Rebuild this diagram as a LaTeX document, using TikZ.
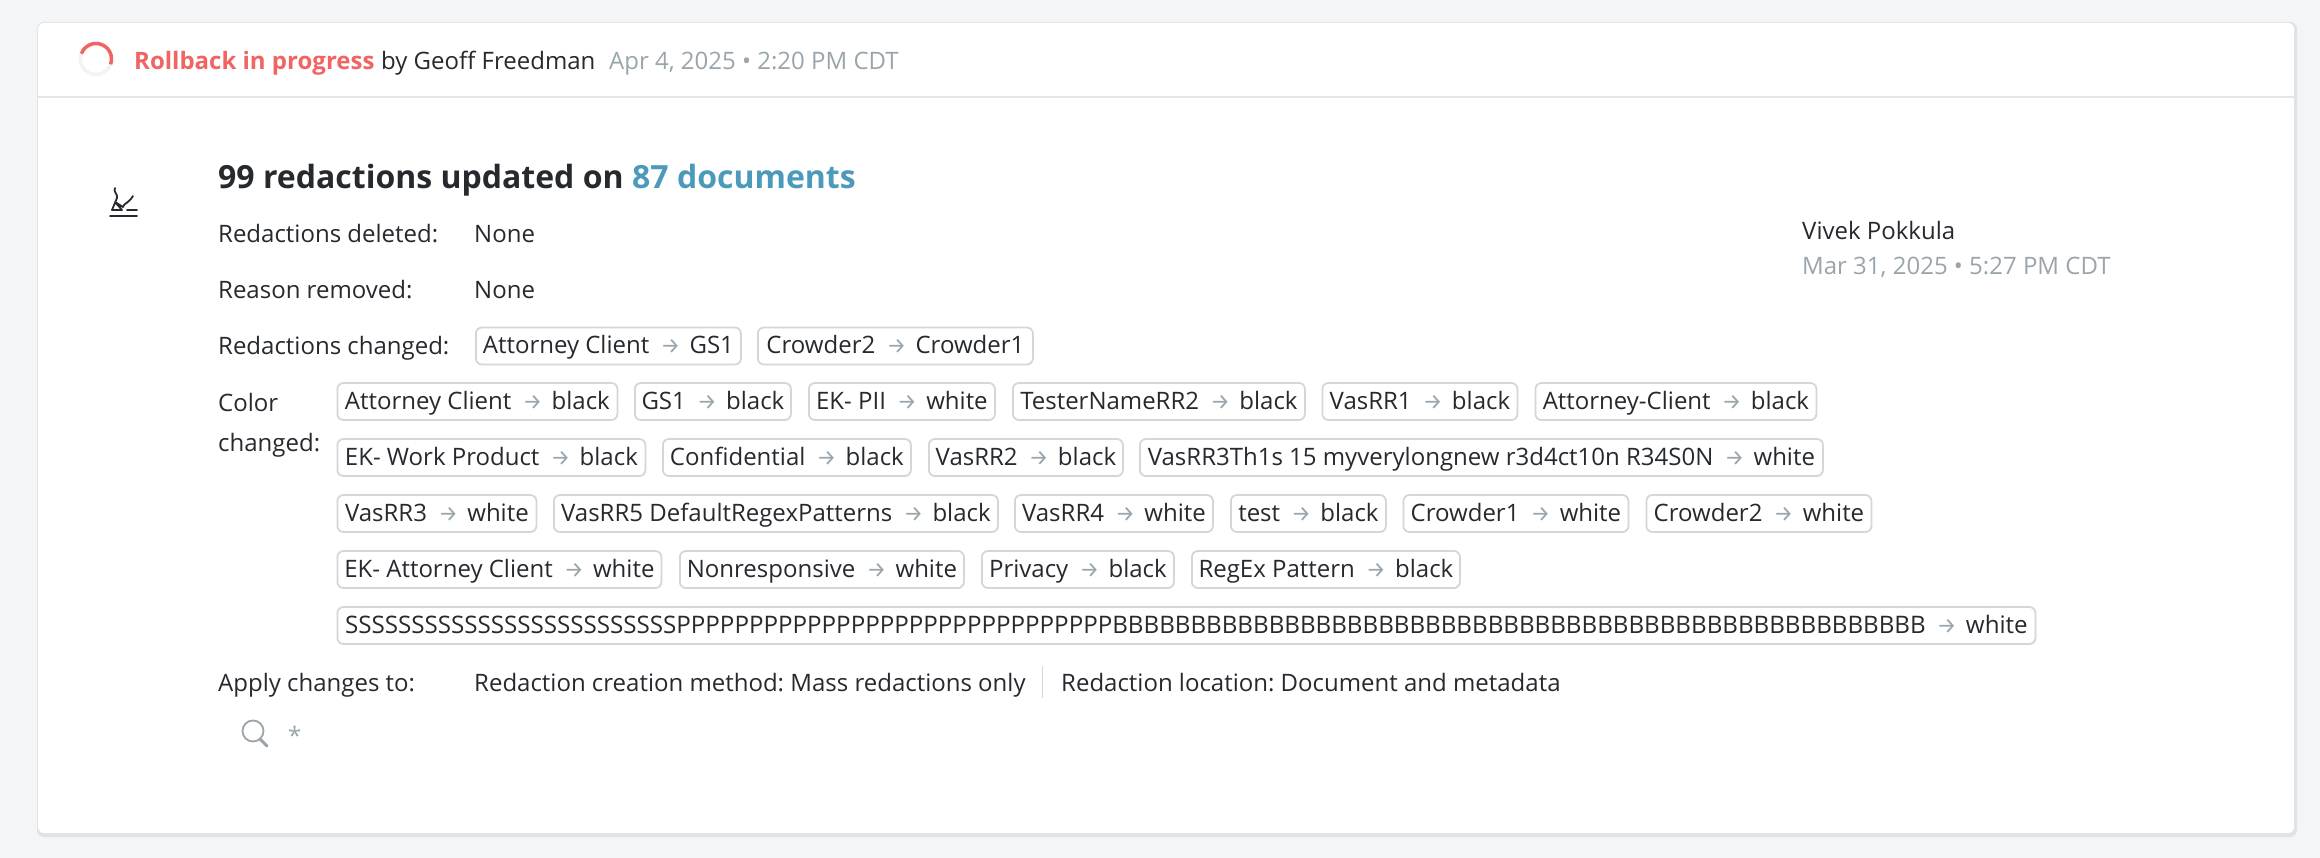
\documentclass[tikz,border=0pt]{standalone}
\usepackage{fontspec}
\setmainfont{Open Sans}
\newfontfamily\arrowfont{Fira Sans}
\definecolor{page_gray}{HTML}{F4F5F7}
\definecolor{shadow_gray}{HTML}{E0E3E6}
\definecolor{rule_gray}{HTML}{E4E6E8}
\definecolor{chip_gray}{HTML}{D3D7DA}
\definecolor{muted_gray}{HTML}{9AA5AB}
\definecolor{text_dark}{HTML}{262A2E}
\definecolor{alert_red}{HTML}{F06464}
\definecolor{link_blue}{HTML}{4C9ABB}
\newcommand{\toarrow}{{\hspace{5pt}\fontsize{22}{26}\arrowfont\color{muted_gray}→\hspace{3pt}}}
\begin{document}
\frenchspacing
\begin{tikzpicture}
        [x=1pt,y=-1pt,
         label_style/.style={anchor=base west,inner sep=0pt,text=text_dark,font=\fontsize{24}{28}\selectfont},
         muted_style/.style={label_style,text=muted_gray},
         title_style/.style={label_style,font=\fontsize{32}{38}\selectfont\bfseries},
         chip_style/.style={anchor=west,draw=chip_gray,line width=1.8pt,rounded corners=6pt,fill=white,
            inner xsep=0pt,inner ysep=0pt,minimum height=37pt,text height=18pt,text depth=3pt,align=center,
            text=text_dark,font=\fontsize{24}{28}\selectfont},
         icon_style/.style={draw=text_dark,line width=1.8pt,line cap=round,line join=round}]
            \useasboundingbox (0,0) rectangle (2320,858);
            \fill[page_gray] (0,0) rectangle (2320,858);
            \fill[shadow_gray,rounded corners=7pt] (37,22) rectangle (2297,837);
            \fill[white,rounded corners=6pt] (38,23) rectangle (2294,833);
            \draw[rule_gray,line width=2pt] (38,97) -- (2294,97);
            \draw[rule_gray!50,line width=3.5pt] (96,59) circle (15.5);
            \draw[alert_red,line width=3.5pt] (96,59) ++(-160:15.5) arc (-160:20:15.5);
            \node[label_style,text=alert_red,font=\fontsize{24}{28}\selectfont\bfseries] (status) at (134,69.5) {Rollback in progress};
            \node[label_style] (byline) at (381,69.5) {by Geoff Freedman};
            \node[muted_style] (rundate) at (609,69.5) {Apr 4, 2025 • 2:20 PM CDT};
            \draw[icon_style] (115,188) .. controls (113,192) and (118,194) .. (117,198) -- (112,210) -- (122,210) -- (115,202) -- (123,207) .. controls (124,203) and (128,204) .. (133,196);
            \draw[icon_style] (127,210) -- (137,210);
            \draw[icon_style] (110,216) -- (137,216);
            \node[title_style] (title) at (218,189) {99 redactions updated on};
            \node[title_style,text=link_blue] (documents) at (632,189) {87 documents};
            \node[label_style] (deleted) at (218,243) {Redactions deleted:};
            \node[label_style] (deleted_val) at (474,243) {None};
            \node[label_style] (reason) at (218,299) {Reason removed:};
            \node[label_style] (reason_val) at (474,299) {None};
            \node[label_style] (changed) at (218,355) {Redactions changed:};
            \node[label_style] (color) at (218,411) {Color};
            \node[label_style] (color2) at (218,451) {changed:};
            \node[label_style] (author) at (1802,240) {Vivek Pokkula};
            \node[muted_style] (authordate) at (1802,275) {Mar 31, 2025 • 5:27 PM CDT};
            \node[chip_style,minimum width=265pt] (r0) at (475,346) {Attorney Client \toarrow{} GS1};
            \node[chip_style,minimum width=275pt] (r1) at (757,346) {Crowder2 \toarrow{} Crowder1};
            \node[chip_style,minimum width=280pt] (a0) at (336.5,401.5) {Attorney Client \toarrow{} black};
            \node[chip_style,minimum width=156pt] (a1) at (634,401.5) {GS1 \toarrow{} black};
            \node[chip_style,minimum width=186pt] (a2) at (808,401.5) {EK- PII \toarrow{} white};
            \node[chip_style,minimum width=292pt] (a3) at (1012,401.5) {TesterNameRR2 \toarrow{} black};
            \node[chip_style,minimum width=195pt] (a4) at (1321.5,401.5) {VasRR1 \toarrow{} black};
            \node[chip_style,minimum width=281pt] (a5) at (1534.5,401.5) {Attorney-Client \toarrow{} black};
            \node[chip_style,minimum width=308pt] (b0) at (336.5,457.5) {EK- Work Product \toarrow{} black};
            \node[chip_style,minimum width=248pt] (b1) at (662,457.5) {Confidential \toarrow{} black};
            \node[chip_style,minimum width=194pt] (b2) at (928,457.5) {VasRR2 \toarrow{} black};
            \node[chip_style,minimum width=683pt] (b3) at (1139,457.5) {VasRR3Th1s 15 myverylongnew r3d4ct10n R34S0N \toarrow{} white};
            \node[chip_style,minimum width=199pt] (c0) at (336.5,513.5) {VasRR3 \toarrow{} white};
            \node[chip_style,minimum width=444pt] (c1) at (553,513.5) {VasRR5 DefaultRegexPatterns \toarrow{} black};
            \node[chip_style,minimum width=198pt] (c2) at (1014,513.5) {VasRR4 \toarrow{} white};
            \node[chip_style,minimum width=155pt] (c3) at (1230,513.5) {test \toarrow{} black};
            \node[chip_style,minimum width=225pt] (c4) at (1402.5,513.5) {Crowder1 \toarrow{} white};
            \node[chip_style,minimum width=225pt] (c5) at (1645.5,513.5) {Crowder2 \toarrow{} white};
            \node[chip_style,minimum width=324pt] (d0) at (336.5,569.5) {EK- Attorney Client \toarrow{} white};
            \node[chip_style,minimum width=284pt] (d1) at (679,569.5) {Nonresponsive \toarrow{} white};
            \node[chip_style,minimum width=192pt] (d2) at (981,569.5) {Privacy \toarrow{} black};
            \node[chip_style,minimum width=268pt] (d3) at (1191,569.5) {RegEx Pattern \toarrow{} black};
            \node[chip_style,minimum width=1698pt,font=\fontsize{24.14}{28}\selectfont] (e0) at (336.5,625.5) {SSSSSSSSSSSSSSSSSSSSSSSSSPPPPPPPPPPPPPPPPPPPPPPPPPPPPPPBBBBBBBBBBBBBBBBBBBBBBBBBBBBBBBBBBBBBBBBBBBBBBBBBBBB \toarrow{} white};
            \node[label_style] (apply) at (218,691) {Apply changes to:};
            \node[label_style] (method) at (474,691) {Redaction creation method: Mass redactions only};
            \node[label_style] (location) at (1061,691) {Redaction location: Document and metadata};
            \draw[chip_gray,line width=1.5pt] (1042.5,666) -- (1042.5,698);
            \draw[muted_gray,line width=1.8pt] (253,731) circle (10.5);
            \draw[muted_gray,line width=3pt,line cap=round] (260,739) -- (267,746);
            \node[muted_style] (query) at (288,744) {*};
        \end{tikzpicture}
\end{document}
